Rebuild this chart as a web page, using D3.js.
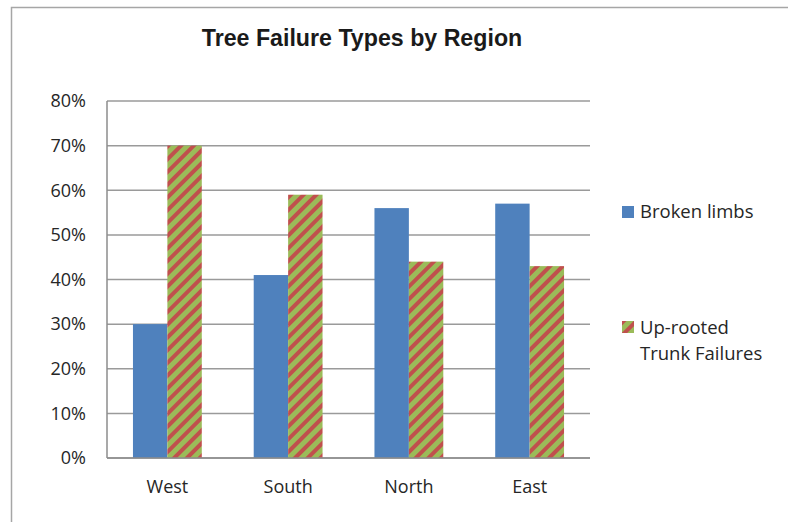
<!DOCTYPE html>
<html>
<head>
<meta charset="utf-8">
<script src="https://cdn.jsdelivr.net/npm/d3@7"></script>
<style>
  html, body { margin: 0; padding: 0; background: #fff; }
  svg { display: block; }
</style>
</head>
<body>
<svg id="chart" width="788" height="522"></svg>
<script>
// Regions and the share of each failure type
const regions = ["West", "South", "North", "East"];
const seriesNames = ["Broken limbs", "Up-rooted Trunk Failures"];
const brokenLimbs = [0.30, 0.41, 0.56, 0.57];
const uprooted = [0.70, 0.59, 0.44, 0.43];
const yTicks = [0, 0.1, 0.2, 0.3, 0.4, 0.5, 0.6, 0.7, 0.8];

const svg = d3.select("#chart");
const labelFont = "'Open Sans', 'Noto Sans', sans-serif";

// Striped fill for the up-rooted series
const defs = svg.append("defs");
const pat = defs.append("pattern")
  .attr("id", "stripes")
  .attr("patternUnits", "userSpaceOnUse")
  .attr("width", 9).attr("height", 9)
  .attr("patternTransform", "rotate(45)");
pat.append("rect").attr("width", 9).attr("height", 9).attr("fill", "#9BBB59");
pat.append("rect").attr("width", 4).attr("height", 9).attr("fill", "#C0504D");

// Chart frame
svg.append("rect")
  .attr("x", 11.5).attr("y", 7.5)
  .attr("width", 800).attr("height", 530)
  .attr("fill", "#fff").attr("stroke", "#a6a6a6").attr("stroke-width", 1.5);

const plot = { left: 107, right: 590, top: 101, bottom: 458 };

const x = d3.scaleBand().domain(regions).range([plot.left, plot.right]).paddingInner(0.43).paddingOuter(0.215);
const xs = d3.scaleBand().domain(seriesNames).range([0, x.bandwidth()]);
const y = d3.scaleLinear().domain([0, 0.8]).range([plot.bottom, plot.top]);

// Horizontal gridlines
svg.append("g").selectAll("line").data(yTicks).join("line")
  .attr("x1", plot.left).attr("x2", plot.right)
  .attr("y1", d => y(d)).attr("y2", d => y(d))
  .attr("stroke", "#9a9a9a").attr("stroke-width", 1.5);

// Bars
const groups = svg.append("g").selectAll("g").data(regions).join("g")
  .attr("transform", d => `translate(${x(d)},0)`);
groups.append("rect")
  .attr("x", xs(seriesNames[0])).attr("width", xs.bandwidth())
  .attr("y", (d, i) => y(brokenLimbs[i]))
  .attr("height", (d, i) => y(0) - y(brokenLimbs[i]))
  .attr("fill", "#4F81BD");
groups.append("rect")
  .attr("x", xs(seriesNames[1])).attr("width", xs.bandwidth())
  .attr("y", (d, i) => y(uprooted[i]))
  .attr("height", (d, i) => y(0) - y(uprooted[i]))
  .attr("fill", "url(#stripes)");

// Y axis
const yAxis = d3.axisLeft(y).tickValues(yTicks).tickFormat(d3.format(".0%")).tickSize(0).tickPadding(21);
const gy = svg.append("g").attr("transform", `translate(${plot.left},0)`).call(yAxis);
gy.select(".domain").attr("stroke", "#8c8c8c").attr("stroke-width", 1.5).attr("d", `M0,${plot.top}V${plot.bottom}`);
gy.selectAll("text").attr("font-family", labelFont).attr("font-size", 18).attr("fill", "#262626");

// X axis
const xAxis = d3.axisBottom(x).tickSize(0).tickPadding(22);
const gx = svg.append("g").attr("transform", `translate(0,${plot.bottom})`).call(xAxis);
gx.select(".domain").attr("stroke", "#8c8c8c").attr("stroke-width", 1.5).attr("d", `M${plot.left},0H${plot.right}`);
gx.selectAll("text").attr("font-family", labelFont).attr("font-size", 18).attr("fill", "#262626");

// Title
svg.append("text")
  .attr("x", 362).attr("y", 46)
  .attr("text-anchor", "middle")
  .attr("font-family", "'Liberation Sans', Arial, sans-serif")
  .attr("font-weight", "bold").attr("font-size", 23.2)
  .attr("fill", "#1a1a1a")
  .text("Tree Failure Types by Region");

// Legend
const legend = svg.append("g");
legend.append("rect").attr("x", 622).attr("y", 206).attr("width", 12).attr("height", 12).attr("fill", "#4F81BD");
legend.append("text").attr("x", 640).attr("y", 218)
  .attr("font-family", labelFont).attr("font-size", 18.5).attr("fill", "#262626")
  .text(seriesNames[0]);
legend.append("rect").attr("x", 622).attr("y", 321).attr("width", 12).attr("height", 12).attr("fill", "url(#stripes)");
const lt = legend.append("text").attr("font-family", labelFont).attr("font-size", 18.5).attr("fill", "#262626");
lt.append("tspan").attr("x", 640).attr("y", 334).text("Up-rooted");
lt.append("tspan").attr("x", 640).attr("y", 360).text("Trunk Failures");
</script>
</body>
</html>
